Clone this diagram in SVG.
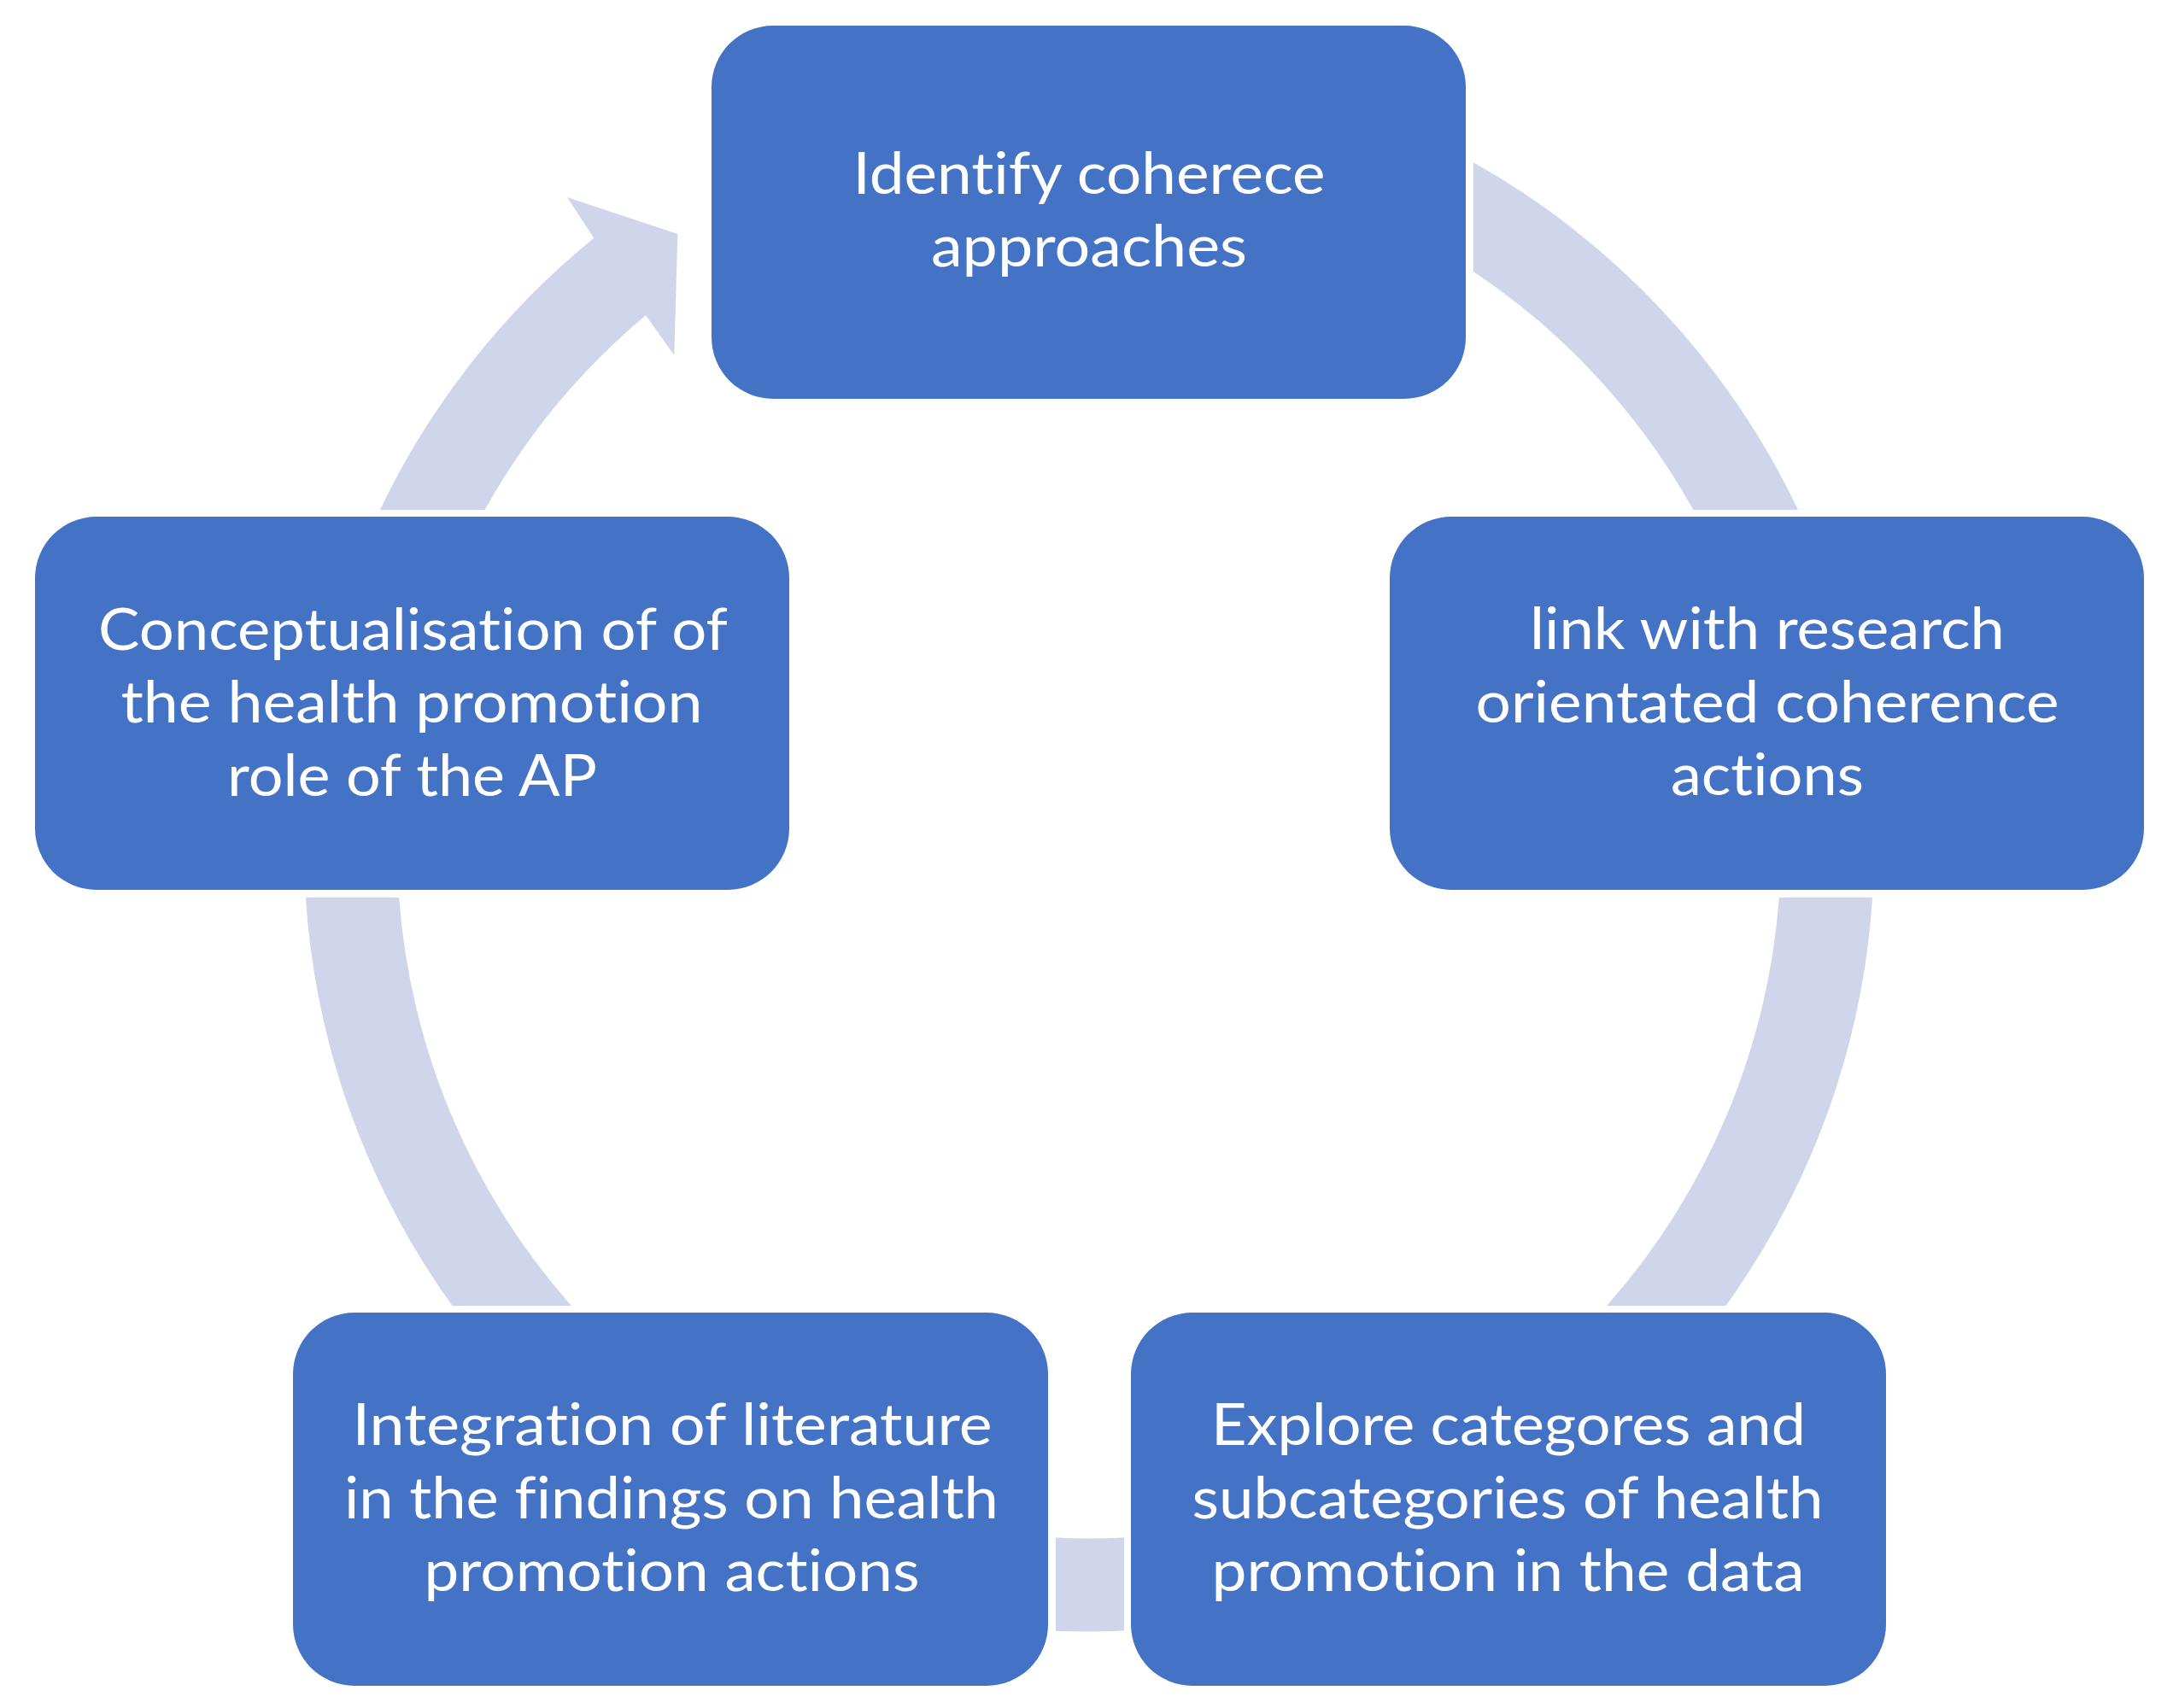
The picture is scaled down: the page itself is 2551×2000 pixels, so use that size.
<svg xmlns="http://www.w3.org/2000/svg" width="2551" height="2000" viewBox="0 0 2551 2000">
<style>
.node rect{fill:#4472C4;}
.node text{fill:#FFFFFF;font-family:Lato,"Open Sans","Liberation Sans",sans-serif;font-size:68px;text-anchor:middle;font-variant-ligatures:none;}
.arc{fill:#CFD5EA;}
</style>
<rect x="0" y="0" width="2551" height="2000" fill="#FFFFFF"/>
<g id="connectors">
<path class="arc" d="M1725,190.2 A919,919 0 0 1 2105,597 L1982.4,597 A810,810 0 0 0 1725,318 Z"/>
<path class="arc" d="M2192.1,1051 A919,919 0 0 1 2020.4,1529 L1881,1529 A810,810 0 0 0 2082.8,1051 Z"/>
<path class="arc" d="M1316,1909.6 A919,919 0 0 1 1236,1909.7 L1236,1800.6 A810,810 0 0 0 1316,1800.5 Z"/>
<path class="arc" d="M529.6,1529 A919,919 0 0 1 357.9,1051 L467.2,1051 A810,810 0 0 0 669,1529 Z"/>
<path class="arc" d="M445,597 A919,919 0 0 1 695.3,278.7 L664,231 L793.3,274 L789.3,416 L756,369.3 A810,810 0 0 0 567.6,597 Z"/>
</g>
<g id="node1" class="node">
<rect x="833" y="30" width="883" height="437" rx="72" ry="72"/>
<text x="1275" y="227" textLength="553" lengthAdjust="spacingAndGlyphs">Identify coherece</text>
<text x="1275" y="312" textLength="370" lengthAdjust="spacingAndGlyphs">approaches</text>
</g>
<g id="node2" class="node">
<rect x="1627" y="605" width="883" height="437" rx="72" ry="72"/>
<text x="2069" y="760" textLength="556" lengthAdjust="spacingAndGlyphs">link with research</text>
<text x="2069" y="845.5" textLength="683" lengthAdjust="spacingAndGlyphs">orientated coherence</text>
<text x="2069" y="931" textLength="226" lengthAdjust="spacingAndGlyphs">actions</text>
</g>
<g id="node3" class="node">
<rect x="1324" y="1537" width="884" height="437" rx="72" ry="72"/>
<text x="1766" y="1692" textLength="696" lengthAdjust="spacingAndGlyphs">Explore categores and</text>
<text x="1765" y="1777.5" textLength="739" lengthAdjust="spacingAndGlyphs">subcategories of health</text>
<text x="1765.5" y="1863" textLength="694" lengthAdjust="spacingAndGlyphs">promotion in the data</text>
</g>
<g id="node4" class="node">
<rect x="343" y="1537" width="884" height="437" rx="72" ry="72"/>
<text x="787" y="1692" textLength="749" lengthAdjust="spacingAndGlyphs">Integration of literature</text>
<text x="786" y="1777.5" textLength="766" lengthAdjust="spacingAndGlyphs">in the findings on health</text>
<text x="786.5" y="1863" textLength="580" lengthAdjust="spacingAndGlyphs">promotion actions</text>
</g>
<g id="node5" class="node">
<rect x="41" y="605" width="883" height="437" rx="72" ry="72"/>
<text x="483.5" y="760.5" textLength="737" lengthAdjust="spacingAndGlyphs">Conceptualisation of of</text>
<text x="482" y="846" textLength="681" lengthAdjust="spacingAndGlyphs">the health promotion</text>
<text x="482.5" y="931.5" textLength="433" lengthAdjust="spacingAndGlyphs">role of the AP</text>
</g>
</svg>
